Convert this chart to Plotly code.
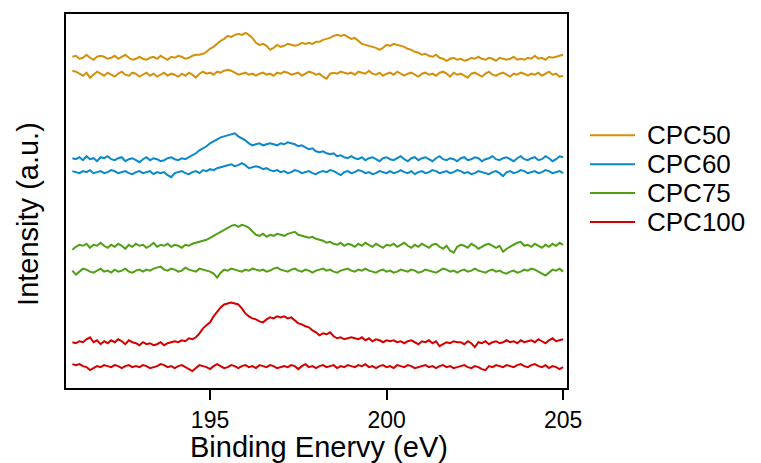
import numpy as np
import plotly.graph_objects as go

# Binding energy grid (eV)
energy = np.round(np.arange(191.1, 205.0001, 0.1), 1)

# Intensities (a.u., stacked offsets as displayed)
cpc50_peak = [
    333, 334, 331, 332, 335, 332, 330, 333, 334, 333,
    331, 332, 334, 331, 333, 335, 332, 330, 331, 333,
    331, 330, 332, 333, 331, 334, 332, 330, 333, 332,
    334, 333, 331, 332, 334, 335, 335, 336, 338, 341,
    343, 346, 349, 351, 354, 353, 355, 356, 355, 357,
    355, 352, 347, 345, 346, 344, 340, 342, 345, 343,
    344, 346, 345, 344, 345, 347, 346, 347, 346, 348,
    348, 350, 351, 352, 354, 355, 354, 355, 353, 351,
    352, 349, 346, 345, 344, 343, 342, 340, 342, 345,
    344, 346, 345, 344, 343, 341, 340, 338, 337, 335,
    336, 334, 333, 335, 332, 331, 329, 331, 332, 330,
    331, 329, 330, 332, 331, 333, 331, 330, 332, 331,
    329, 332, 331, 330, 331, 333, 330, 331, 330, 332,
    331, 334, 331, 332, 330, 333, 332, 333, 334, 335,
]
cpc50_base = [
    319, 318, 316, 314, 317, 312, 315, 318, 316, 314,
    317, 315, 313, 316, 318, 315, 314, 317, 316, 313,
    315, 317, 314, 316, 313, 315, 317, 314, 316, 315,
    313, 316, 314, 317, 315, 312, 316, 318, 316, 317,
    315, 318, 317, 319, 320, 319, 317, 315, 316, 317,
    315, 316, 314, 316, 317, 315, 316, 314, 317, 316,
    318, 317, 315, 316, 317, 314, 316, 318, 317, 315,
    316, 313, 311, 316, 317, 316, 318, 317, 316, 317,
    315, 318, 317, 316, 319, 316, 315, 317, 314, 316,
    317, 315, 318, 316, 314, 316, 317, 315, 313, 316,
    317, 315, 316, 314, 317, 318, 316, 313, 317, 315,
    316, 314, 312, 316, 317, 315, 313, 316, 318, 315,
    314, 316, 317, 315, 313, 316, 315, 317, 316, 314,
    316, 315, 317, 314, 316, 318, 315, 316, 313, 314,
]
cpc60_peak = [
    231, 230, 232, 229, 233, 230, 231, 228, 232, 231,
    233, 230, 229, 231, 232, 228, 230, 231, 229, 227,
    230, 232, 229, 231, 230, 228, 229, 231, 232, 230,
    229, 231, 230, 232, 234, 236, 239, 241, 243, 246,
    248, 250, 252, 253, 254, 255, 256, 253, 251, 249,
    246, 244, 245, 246, 244, 245, 246, 245, 244, 246,
    245, 247, 246, 245, 243, 244, 242, 240, 241, 238,
    237, 238, 236, 235, 236, 233, 234, 232, 231, 233,
    231, 230, 232, 229, 231, 232, 230, 228, 231, 232,
    230, 229, 231, 233, 230, 228, 231, 232, 229, 231,
    232, 230, 228, 231, 233, 230, 229, 231, 230, 228,
    231, 232, 229, 230, 232, 231, 228, 230, 231, 233,
    230, 229, 231, 232, 230, 228, 231, 233, 230, 229,
    231, 232, 229, 230, 233, 231, 228, 230, 233, 232,
]
cpc60_base = [
    218, 217, 216, 218, 217, 219, 216, 217, 218, 216,
    217, 219, 218, 216, 217, 218, 216, 215, 217, 218,
    216, 217, 218, 215, 217, 216, 217, 214, 212, 216,
    217, 218, 216, 215, 217, 218, 216, 219, 218, 220,
    219, 221, 222, 223, 224, 225, 223, 224, 226, 224,
    221, 222, 223, 222, 220, 221, 219, 218, 219, 217,
    218, 216, 217, 219, 218, 216, 217, 218, 216, 215,
    217, 218, 217, 219, 218, 216, 214, 217, 218, 216,
    217, 219, 218, 216, 217, 215, 216, 218, 217, 216,
    218, 216, 217, 219, 217, 216, 218, 215, 217, 218,
    216, 217, 219, 218, 216, 217, 218, 216, 217, 219,
    218, 216, 217, 215, 216, 218, 217, 216, 215, 217,
    218, 216, 213, 217, 218, 216, 217, 219, 218, 216,
    217, 218, 216, 217, 219, 218, 216, 217, 218, 216,
]
cpc75_peak = [
    139, 142, 144, 143, 145, 141, 144, 143, 146, 143,
    141, 144, 142, 145, 143, 140, 144, 142, 145, 143,
    144, 141, 143, 146, 142, 144, 143, 145, 142, 144,
    143, 141, 144, 143, 145, 146, 147, 148, 149, 151,
    153, 155, 157, 159, 161, 163, 164, 162, 164, 163,
    161, 157, 154, 153, 155, 152, 154, 153, 155, 154,
    153, 155, 156, 157, 154, 153, 152, 151, 152, 150,
    149, 148, 146, 147, 145, 144, 146, 143, 145, 144,
    142, 145, 143, 146, 144, 142, 145, 143, 141, 144,
    143, 145, 142, 144, 146, 143, 141, 144, 142, 145,
    143, 141, 144, 145, 142, 140, 143, 138, 136, 142,
    144, 143, 141, 145, 143, 140, 142, 144, 145, 143,
    141, 143, 137, 140, 142, 144, 146, 147, 143, 144,
    142, 145, 143, 141, 144, 142, 145, 143, 146, 144,
]
cpc75_base = [
    118, 114, 117, 120, 119, 117, 116, 118, 120, 117,
    118, 116, 119, 117, 118, 120, 117, 116, 118, 119,
    117, 119, 118, 120, 121, 122, 119, 118, 120, 119,
    117, 118, 121, 119, 118, 117, 120, 119, 118, 117,
    115, 111, 116, 119, 118, 120, 119, 118, 117, 119,
    118, 120, 119, 118, 119, 117, 118, 120, 121, 119,
    118, 117, 119, 120, 118, 117, 119, 118, 116, 118,
    119, 120, 118, 119, 117, 116, 118, 119, 120, 118,
    117, 119, 118, 120, 118, 117, 116, 118, 119, 117,
    118, 116, 117, 119, 118, 117, 119, 118, 116, 117,
    119, 118, 117, 116, 118, 120, 119, 117, 118, 116,
    118, 119, 117, 118, 120, 118, 117, 116, 118, 119,
    117, 118, 116, 115, 117, 118, 116, 117, 119, 118,
    120, 119, 117, 115, 113, 116, 119, 118, 120, 117,
]
cpc100_peak = [
    46, 45, 47, 46, 49, 51, 46, 48, 44, 47,
    45, 48, 46, 49, 47, 44, 48, 46, 45, 43,
    46, 44, 45, 43, 44, 46, 43, 45, 46, 47,
    46, 48, 47, 50, 49, 51, 55, 60, 63, 66,
    72, 77, 81, 84, 85, 86, 85, 84, 80, 75,
    72, 70, 69, 67, 66, 69, 71, 70, 72, 71,
    72, 70, 71, 68, 65, 64, 62, 61, 58, 56,
    53, 55, 54, 56, 52, 50, 51, 49, 50, 51,
    50, 49, 51, 48, 50, 47, 49, 48, 46, 48,
    47, 48, 46, 47, 45, 47, 48, 46, 44, 47,
    46, 48, 45, 47, 42, 44, 46, 45, 47, 46,
    46, 44, 47, 45, 41, 46, 45, 47, 44, 46,
    47, 45, 46, 48, 46, 47, 45, 48, 46, 47,
    48, 46, 49, 47, 45, 48, 50, 47, 48, 49,
]
cpc100_base = [
    24, 23, 24, 22, 21, 18, 20, 22, 21, 23,
    22, 21, 23, 22, 20, 22, 23, 21, 22, 21,
    23, 22, 20, 21, 22, 24, 23, 21, 22, 20,
    22, 23, 21, 19, 17, 20, 23, 22, 21, 19,
    22, 24, 22, 20, 21, 23, 22, 20, 22, 23,
    21, 22, 20, 23, 22, 21, 23, 22, 20, 21,
    22, 21, 23, 22, 19, 22, 24, 21, 22, 20,
    22, 23, 21, 22, 23, 20, 22, 21, 23, 22,
    21, 23, 22, 24, 21, 22, 20, 22, 23, 21,
    22, 20, 23, 22, 21, 23, 22, 20, 21, 22,
    23, 21, 22, 20, 22, 23, 21, 22, 20, 21,
    22, 23, 21, 20, 22, 21, 19, 18, 22, 21,
    23, 22, 21, 23, 22, 21, 23, 24, 22, 21,
    23, 24, 22, 21, 23, 20, 22, 21, 19, 21,
]

labels = ["CPC50", "CPC60", "CPC75", "CPC100"]
colors = ["#D4900A", "#0A88CC", "#4FA014", "#D40000"]
series = [
    (cpc50_peak, cpc50_base),
    (cpc60_peak, cpc60_base),
    (cpc75_peak, cpc75_base),
    (cpc100_peak, cpc100_base),
]
x_ticks = [195, 200, 205]

FONT = "Liberation Sans, Arial, Helvetica, sans-serif"

fig = go.Figure()
for name, color, (peak, base) in zip(labels, colors, series):
    for ys in (peak, base):
        fig.add_trace(go.Scatter(
            x=energy, y=ys, mode="lines", name=name,
            line=dict(color=color, width=2),
            showlegend=False, hoverinfo="skip",
        ))

# plot area in pixels
L, R, T, B = 66, 567, 12, 388
def px(xp):
    return (xp - L) / (R - L)
def py(yp):
    return (B - yp) / (B - T)

shapes = []
annotations = []
leg_y = [134, 163, 192, 221]
for name, color, yy in zip(labels, colors, leg_y):
    shapes.append(dict(type="line", xref="paper", yref="paper",
                       x0=px(590), x1=px(635), y0=py(yy), y1=py(yy),
                       line=dict(color=color, width=2)))
    annotations.append(dict(text=name, xref="paper", yref="paper",
                            x=px(646), y=py(yy), xanchor="left", yanchor="middle",
                            showarrow=False, borderpad=0,
                            font=dict(family=FONT, size=26, color="black")))

annotations.append(dict(text="Intensity (a.u.)", xref="paper", yref="paper",
                        x=px(28), y=py(213), textangle=-90, xanchor="center",
                        yanchor="middle", showarrow=False,
                        font=dict(family=FONT, size=29, color="black")))
annotations.append(dict(text="Binding Enervy (eV)", xref="paper", yref="paper",
                        x=px(319), y=py(447), xanchor="center", yanchor="middle",
                        showarrow=False, font=dict(family=FONT, size=29, color="black")))

fig.update_layout(
    width=761, height=463,
    margin=dict(l=L, r=761 - R, t=T, b=463 - B),
    paper_bgcolor="white", plot_bgcolor="white",
    font=dict(family=FONT, color="black"),
    shapes=shapes, annotations=annotations,
    showlegend=False,
    xaxis=dict(range=[190.92, 205.11], tickvals=x_ticks, ticktext=[str(t) for t in x_ticks],
               ticks="outside", ticklen=10, tickwidth=2, tickcolor="black",
               showline=True, linewidth=2, linecolor="black", mirror=True,
               showgrid=False, zeroline=False,
               tickfont=dict(family=FONT, size=23, color="black")),
    yaxis=dict(range=[0, 376], showticklabels=False, ticks="",
               showline=True, linewidth=2, linecolor="black", mirror=True,
               showgrid=False, zeroline=False),
)

fig.write_html("out.html")
